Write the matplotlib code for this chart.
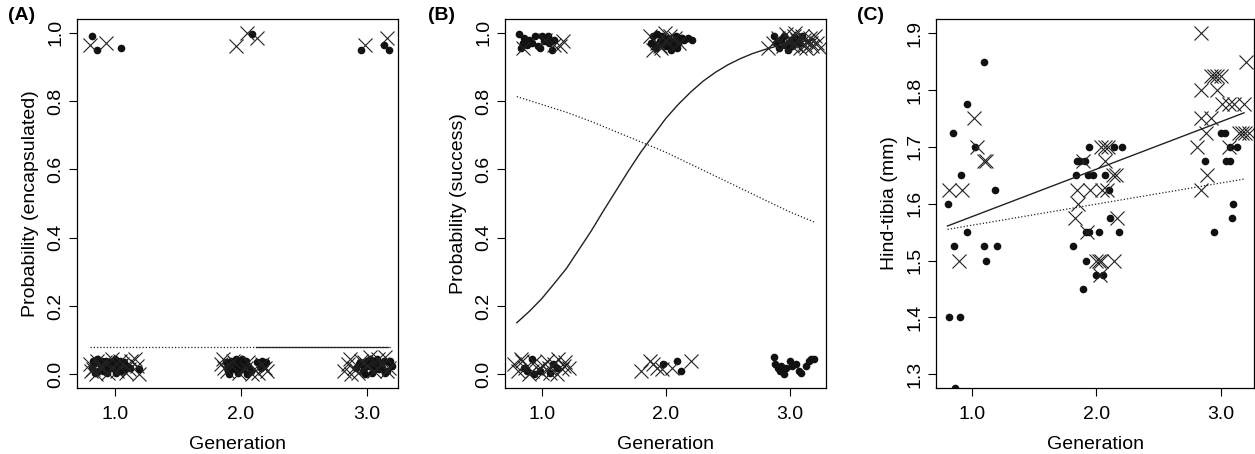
import numpy as np
import matplotlib
matplotlib.use("Agg")
import matplotlib.pyplot as plt

plt.rcParams['font.family'] = ['Liberation Sans', 'DejaVu Sans']
plt.rcParams['font.size'] = 14

# ---------------- Panel A : probability encapsulated ----------------
a_circ_x = [0.82, 0.86, 1.05, 2.09, 2.96, 3.14, 3.18,
            0.82, 0.85, 0.87, 0.90, 0.92, 0.95, 0.97, 1.00, 1.02, 1.05, 1.07, 1.10, 0.84, 0.88,
            0.93, 0.98, 1.03, 1.08, 0.86, 0.91, 0.96, 1.01, 1.12, 1.19, 0.83, 0.94, 0.99, 1.04,
            1.88, 1.90, 1.92, 1.94, 1.96, 1.98, 2.00, 2.02, 2.04, 2.06, 2.08, 1.89, 1.93, 1.97,
            2.01, 2.05, 2.13, 2.15, 2.17, 2.19, 1.91, 1.95, 1.99, 2.03, 2.16, 2.20,
            2.92, 2.95, 2.97, 3.00, 3.02, 3.04, 3.06, 3.08, 3.10, 3.12, 3.14, 3.16, 3.18, 3.20,
            2.94, 2.99, 3.03, 3.07, 3.11, 3.15, 3.19, 2.98]
a_circ_y = [0.99, 0.95, 0.955, 0.995, 0.95, 0.965, 0.95,
            0.02, 0.035, 0.01, 0.04, 0.025, 0.015, 0.03, 0.045, 0.02, 0.01, 0.035, 0.025, 0.005, 0.03,
            0.04, 0.02, 0.03, 0.015, 0.045, 0.01, 0.035, 0.005, 0.02, 0.015, 0.04, 0.005, 0.025, 0.04,
            0.035, 0.01, 0.04, 0.02, 0.045, 0.005, 0.03, 0.015, 0.04, 0.025, 0.01, 0.02, 0.03, 0.035,
            0.045, 0.0, 0.035, 0.025, 0.04, 0.03, 0.0, 0.015, 0.025, 0.04, 0.02, 0.035,
            0.02, 0.035, 0.01, 0.04, 0.025, 0.005, 0.03, 0.045, 0.015, 0.02, 0.04, 0.01, 0.035, 0.025,
            0.03, 0.0, 0.045, 0.015, 0.03, 0.005, 0.04, 0.02]
a_cross_x = [0.80, 0.93, 1.96, 2.05, 2.13, 2.99, 3.16,
             0.80, 0.83, 0.86, 0.89, 0.92, 0.95, 0.98, 1.02, 1.06, 1.09, 1.13, 1.16, 1.19, 0.81,
             0.88, 0.97, 1.04, 1.11, 1.18, 0.85,
             1.84, 1.86, 1.89, 1.94, 1.99, 2.04, 2.09, 2.11, 2.14, 2.17, 2.21, 1.87, 2.06, 2.19,
             2.82, 2.85, 2.87, 2.90, 2.93, 2.96, 3.00, 3.03, 3.06, 3.09, 3.12, 3.15, 3.18, 2.88,
             2.98, 3.08, 3.16]
a_cross_y = [0.965, 0.97, 0.96, 1.0, 0.985, 0.965, 0.985,
             0.03, 0.015, 0.04, 0.02, 0.035, 0.005, 0.045, 0.01, 0.03, 0.005, 0.04, 0.045, 0.0, 0.01,
             0.025, 0.02, 0.04, 0.015, 0.025, 0.0,
             0.03, 0.045, 0.01, 0.04, 0.005, 0.02, 0.0, 0.015, 0.005, 0.03, 0.01, 0.02, 0.035, 0.02,
             0.01, 0.03, 0.045, 0.02, 0.005, 0.04, 0.025, 0.05, 0.01, 0.045, 0.03, 0.05, 0.02, 0.0,
             0.035, 0.02, 0.01]
a_dot_x = [0.8, 3.2]
a_dot_y = [0.080, 0.080]
a_sol_x = [2.12, 3.17]
a_sol_y = [0.081, 0.081]

# ---------------- Panel B : probability success ----------------
b_circ_x = [0.82, 0.83, 0.85, 0.88, 0.90, 0.95, 0.97, 1.00, 1.02, 1.04, 1.06, 1.08, 0.86, 0.99,
            1.05, 1.10, 0.92,
            1.88, 1.90, 1.92, 1.95, 1.97, 2.00, 2.02, 2.04, 2.06, 2.08, 2.10, 2.12, 2.15, 2.18,
            2.21, 1.91, 1.96, 2.01, 2.05, 2.09, 2.13, 1.93,
            2.87, 2.89, 2.91, 2.93, 2.95, 2.98, 3.01, 3.04, 3.07, 3.10, 2.96, 3.02,
            0.86, 0.88, 0.92, 0.94, 0.99, 1.07, 1.09, 1.12,
            1.98, 2.09, 2.12,
            2.87, 2.88, 2.90, 2.92, 2.95, 2.97, 3.00, 3.02, 3.05, 3.07, 3.09, 3.13, 3.15, 3.17,
            3.19, 2.93]
b_circ_y = [0.995, 0.955, 0.97, 0.965, 0.98, 0.99, 0.96, 0.99, 0.975, 0.985, 0.97, 0.95, 0.985, 0.955,
            0.99, 0.98, 0.97,
            0.97, 0.99, 0.955, 0.975, 0.99, 0.96, 0.985, 0.95, 0.975, 0.99, 0.97, 0.985, 0.98, 0.985,
            0.98, 0.96, 0.97, 0.975, 0.965, 0.955, 0.985, 0.995,
            0.99, 0.97, 0.955, 0.98, 0.99, 0.95, 0.975, 0.985, 0.97, 0.99, 0.965, 0.96,
            0.02, 0.01, 0.045, 0.0, 0.01, 0.005, 0.03, 0.02,
            0.03, 0.04, 0.01,
            0.05, 0.03, 0.02, 0.01, 0.0, 0.02, 0.04, 0.025, 0.03, 0.01, 0.005, 0.025, 0.04, 0.045,
            0.045, 0.025]
b_cross_x = [0.85, 1.03, 1.10, 1.15, 1.17,
             1.87, 1.90, 1.93, 1.96, 1.99, 2.03, 2.07, 1.95, 2.00, 2.11,
             2.82, 2.86, 2.90, 2.94, 2.97, 3.00, 3.02, 3.04, 3.06, 3.08, 3.10, 3.12, 3.14, 3.16,
             3.18, 3.20, 3.22, 3.24, 2.99, 3.05, 3.11, 3.17, 3.03, 3.13,
             0.78, 0.81, 0.84, 0.87, 0.90, 0.94, 0.97, 1.01, 1.04, 1.07, 1.10, 1.13, 1.16, 1.19,
             1.22, 0.83, 0.92, 1.00, 1.06, 1.12, 1.18,
             1.80, 1.87, 1.90, 1.93, 1.97, 2.05, 2.20]
b_cross_y = [0.955, 0.98, 0.965, 0.96, 0.975,
             0.99, 0.95, 0.97, 0.955, 1.0, 0.99, 0.985, 0.96, 0.975, 0.97,
             0.955, 0.97, 0.985, 0.96, 0.995, 0.975, 0.96, 1.0, 0.98, 0.955, 0.99, 0.965, 0.975, 0.985,
             0.96, 0.99, 0.97, 0.955, 0.985, 0.965, 0.98, 0.97, 0.99, 0.955,
             0.03, 0.01, 0.04, 0.02, 0.0, 0.035, 0.015, 0.025, 0.04, 0.005, 0.03, 0.045, 0.015, 0.035,
             0.02, 0.045, 0.01, 0.005, 0.02, 0.0, 0.025,
             0.01, 0.04, 0.03, 0.02, 0.015, 0.02, 0.04]
b_sol_x = [0.8, 0.9, 1.0, 1.1, 1.2, 1.3, 1.4, 1.5, 1.6, 1.7, 1.8, 1.9, 2.0, 2.1, 2.2,
           2.3, 2.4, 2.5, 2.6, 2.7, 2.8, 2.9, 3.0, 3.1, 3.2]
b_sol_y = [0.151, 0.184, 0.221, 0.265, 0.31, 0.365, 0.42, 0.48, 0.538, 0.596, 0.651, 0.70,
           0.749, 0.79, 0.826, 0.858, 0.884, 0.906, 0.924, 0.939, 0.951, 0.961, 0.969, 0.975, 0.98]
b_dot_x = [0.8, 1.0, 1.2, 1.4, 1.6, 1.8, 2.0, 2.2, 2.4, 2.6, 2.8, 3.0, 3.2]
b_dot_y = [0.813, 0.79, 0.767, 0.74, 0.71, 0.68, 0.65, 0.615, 0.58, 0.545, 0.51, 0.475, 0.445]

# ---------------- Panel C : hind-tibia ----------------
c_circ_x = [0.80, 0.814, 0.847, 0.855, 0.86, 0.906, 0.90, 0.954, 0.954, 1.02, 1.09, 1.097, 1.108,
            1.186, 1.196,
            1.808, 1.834, 1.843, 1.87, 1.905, 1.888, 1.915, 1.937, 1.915, 1.942, 1.93, 1.97, 2.018,
            1.999, 2.05, 2.07, 2.10, 2.11, 2.14, 2.21, 2.18,
            2.873, 2.946, 3.008, 3.04, 3.048, 3.075, 3.075, 3.135, 3.10, 3.094]
c_circ_y = [1.60, 1.40, 1.725, 1.525, 1.276, 1.65, 1.40, 1.775, 1.55, 1.70, 1.525, 1.85, 1.50,
            1.625, 1.525,
            1.525, 1.65, 1.675, 1.675, 1.675, 1.45, 1.55, 1.55, 1.50, 1.70, 1.65, 1.65, 1.55,
            1.475, 1.475, 1.65, 1.625, 1.575, 1.70, 1.70, 1.55,
            1.675, 1.55, 1.725, 1.725, 1.675, 1.675, 1.70, 1.70, 1.60, 1.575]
c_cross_x = [0.81, 0.92, 0.89, 1.013, 1.035, 1.094, 1.108,
             1.824, 1.843, 1.85, 1.89, 1.95, 1.923, 2.044, 2.07, 2.04, 2.07, 2.09, 2.018, 2.04,
             2.00, 2.03, 2.085, 2.133, 2.155, 2.166, 2.144,
             2.846, 3.207, 2.846, 2.973, 2.92, 2.946, 2.973, 3.0, 2.846, 2.92, 3.013, 3.067, 3.108,
             3.19, 2.88, 3.148, 3.175, 3.20, 3.23, 2.81, 3.067, 2.89, 2.846]
c_cross_y = [1.625, 1.625, 1.50, 1.75, 1.70, 1.675, 1.675,
             1.575, 1.625, 1.60, 1.675, 1.625, 1.55, 1.625, 1.675, 1.70, 1.70, 1.70, 1.50, 1.50,
             1.50, 1.475, 1.625, 1.65, 1.65, 1.575, 1.50,
             1.90, 1.85, 1.80, 1.80, 1.825, 1.825, 1.825, 1.825, 1.75, 1.75, 1.775, 1.775, 1.775,
             1.775, 1.725, 1.725, 1.725, 1.725, 1.725, 1.70, 1.70, 1.65, 1.625]
c_sol_x = [0.8, 3.19]
c_sol_y = [1.561, 1.760]
c_dot_x = [0.8, 3.19]
c_dot_y = [1.555, 1.6435]

gen_ticks = [1.0, 2.0, 3.0]
gen_labels = ["1.0", "2.0", "3.0"]

fig = plt.figure(figsize=(12.55, 4.54), dpi=100)
H = 454
W = 1255


def make_ax(left, right, top, bottom):
    return fig.add_axes([left / W, 1 - bottom / H, (right - left) / W, (bottom - top) / H])


axA = make_ax(77, 398, 19, 388)
axB = make_ax(505, 826, 19, 388)
axC = make_ax(936, 1254, 19, 388)

dotted = (0, (1, 1.6))


def style(ax, ylabel, letter, letter_x):
    for s in ax.spines.values():
        s.set_linewidth(0.9)
    ax.tick_params(direction='out', length=6, width=0.8, labelsize=14)
    ax.tick_params(axis='x', pad=7)
    ax.tick_params(axis='y', pad=3)
    for lab in ax.get_yticklabels():
        lab.set_rotation(90)
        lab.set_va('center')
    ax.set_xticks(gen_ticks)
    ax.set_xticklabels(gen_labels)
    ax.set_xlabel("Generation", fontsize=14, labelpad=9)
    ax.set_ylabel(ylabel, fontsize=14, labelpad=6)
    fig.text(letter_x / W, 1 - 15 / H, letter, fontsize=14, fontweight='bold',
             ha='left', va='center')


def points(ax, cx, cy, xx, xy):
    ax.plot(cx, cy, 'o', color='#111111', markersize=5.5, markeredgewidth=0, linestyle='none')
    ax.plot(xx, xy, 'x', color='#222222', markersize=9.5, markeredgewidth=0.8, linestyle='none')


# Panel A
points(axA, a_circ_x, a_circ_y, a_cross_x, a_cross_y)
axA.plot(a_dot_x, a_dot_y, color='#222222', linewidth=0.9, linestyle=dotted)
axA.plot(a_sol_x, a_sol_y, color='#222222', linewidth=0.9)
axA.set_xlim(0.70, 3.25)
axA.set_ylim(-0.04, 1.04)
axA.set_yticks([0.0, 0.2, 0.4, 0.6, 0.8, 1.0])
axA.set_yticklabels(["0.0", "0.2", "0.4", "0.6", "0.8", "1.0"])
style(axA, "Probability (encapsulated)", "(A)", 8)

# Panel B
points(axB, b_circ_x, b_circ_y, b_cross_x, b_cross_y)
axB.plot(b_sol_x, b_sol_y, color='#222222', linewidth=1.0)
axB.plot(b_dot_x, b_dot_y, color='#222222', linewidth=0.9, linestyle=dotted)
axB.set_xlim(0.705, 3.29)
axB.set_ylim(-0.04, 1.04)
axB.set_yticks([0.0, 0.2, 0.4, 0.6, 0.8, 1.0])
axB.set_yticklabels(["0.0", "0.2", "0.4", "0.6", "0.8", "1.0"])
style(axB, "Probability (success)", "(B)", 428)

# Panel C
points(axC, c_circ_x, c_circ_y, c_cross_x, c_cross_y)
axC.plot(c_sol_x, c_sol_y, color='#222222', linewidth=1.0)
axC.plot(c_dot_x, c_dot_y, color='#222222', linewidth=0.9, linestyle=dotted)
axC.set_xlim(0.707, 3.27)
axC.set_ylim(1.276, 1.925)
axC.set_yticks([1.3, 1.4, 1.5, 1.6, 1.7, 1.8, 1.9])
axC.set_yticklabels(["1.3", "1.4", "1.5", "1.6", "1.7", "1.8", "1.9"])
style(axC, "Hind-tibia (mm)", "(C)", 857)

fig.savefig("out.png", dpi=100)
